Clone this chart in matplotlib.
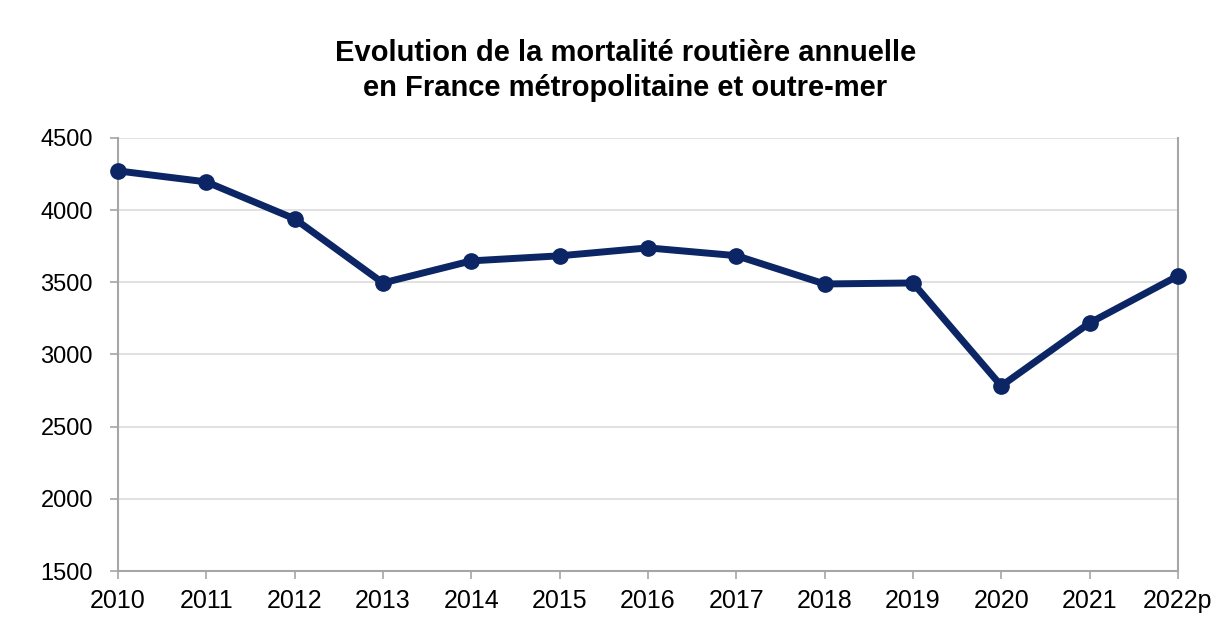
import matplotlib.pyplot as plt

plt.rcParams['font.family'] = ['Liberation Sans', 'DejaVu Sans']

# Nombre de tués par an
years = ['2010', '2011', '2012', '2013', '2014', '2015', '2016',
         '2017', '2018', '2019', '2020', '2021', '2022p']
deaths = [4271, 4195, 3939, 3495, 3648, 3683, 3738,
          3684, 3488, 3495, 2782, 3218, 3544]
yticks = [1500, 2000, 2500, 3000, 3500, 4000, 4500]

navy = '#0b2565'
grey = '#a6a6a6'

fig = plt.figure(figsize=(12.24, 6.37), dpi=100)
ax = fig.add_axes([0.0964, 0.1036, 0.866, 0.680])

x = range(len(years))
ax.plot(x, deaths, color=navy, lw=5, marker='o', ms=11,
        solid_joinstyle='round', zorder=3, clip_on=False)

ax.set_xlim(0, len(years) - 1)
ax.set_ylim(1500, 4500)
ax.set_xticks(list(x))
ax.set_xticklabels(years)
ax.set_yticks(yticks)
ax.grid(axis='y', color='#dcdcdc', lw=1.2)
ax.set_axisbelow(True)

for side in ['left', 'right', 'bottom']:
    ax.spines[side].set_color(grey)
    ax.spines[side].set_linewidth(1.5)
ax.spines['top'].set_visible(False)
ax.tick_params(axis='both', colors=grey, labelcolor='black',
               length=6, width=1.2)
ax.tick_params(axis='x', labelsize=18, pad=7)
ax.tick_params(axis='y', labelsize=17, pad=12)

fig.text(0.511, 0.889, 'Evolution de la mortalité routière annuelle\n'
         'en France métropolitaine et outre-mer',
         ha='center', va='center', fontsize=21, fontweight='bold',
         linespacing=1.3)

fig.savefig('out.png', dpi=100)
